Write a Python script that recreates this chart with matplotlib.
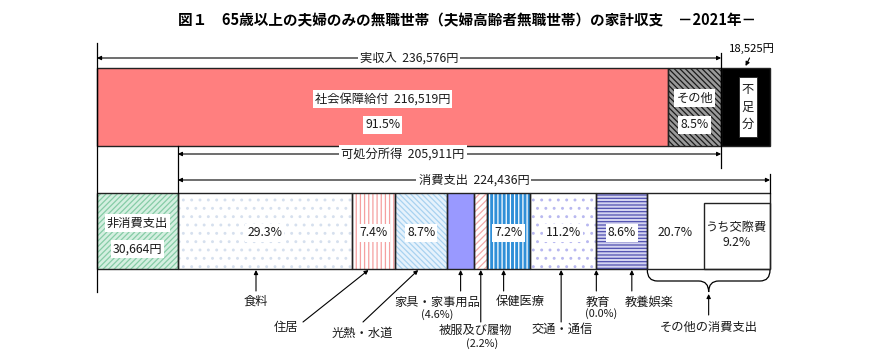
import matplotlib
matplotlib.use('Agg')
import matplotlib.pyplot as plt
from matplotlib.path import Path
from matplotlib.patches import PathPatch
import numpy as np

plt.rcParams['font.family'] = ['Noto Sans CJK JP', 'DejaVu Sans']
plt.rcParams['hatch.linewidth'] = 0.9

# ---------------- data ----------------
title = "図１　65歳以上の夫婦のみの無職世帯（夫婦高齢者無職世帯）の家計収支　－2021年－"
income_total = 236576
social_security = 216519
income_other = income_total - social_security
income_pct = [91.5, 8.5]
deficit = 18525
non_consumption = 30664
disposable = 205911
consumption = 224436
cons_categories = ['食料', '住居', '光熱・水道', '家具・家事用品', '被服及び履物',
                   '保健医療', '交通・通信', '教育', '教養娯楽', 'その他の消費支出']
cons_pct = [29.3, 7.4, 8.7, 4.6, 2.2, 7.2, 11.2, 0.0, 8.6, 20.7]
social_pct = 9.2

# ---------------- layout ----------------
FIG_W, FIG_H = 870, 360
LEFT_PX, BAR_PX = 97, 673
total = income_total + deficit
S = total / BAR_PX


def px(p):
    return (p - LEFT_PX) * S


fig = plt.figure(figsize=(FIG_W / 100, FIG_H / 100), dpi=100)
ax = fig.add_axes([0, 0, 1, 1])
ax.set_xlim(px(0), px(FIG_W))
ax.set_ylim(FIG_H, 0)
ax.axis('off')

FS = 8.8


def seg(left, width, top, bottom, fc, hatch=None, hc=None, z=2):
    h = bottom - top
    ax.barh((top + bottom) / 2, width, left=left, height=h, color=fc,
            linewidth=0, zorder=z)
    if hatch:
        ax.barh((top + bottom) / 2, width, left=left, height=h, fill=False,
                hatch=hatch, edgecolor=hc, linewidth=0, zorder=z + 0.1)
    ax.barh((top + bottom) / 2, width, left=left, height=h, fill=False,
            edgecolor='#222222', linewidth=1.0, zorder=z + 0.2)


def label(x, y, s, box=True, fs=FS, **kw):
    bb = dict(fc='white', ec='none', pad=1.5) if box else None
    ax.text(x, y, s, ha='center', va='center', fontsize=fs, bbox=bb,
            zorder=10, color='#1a1a1a', **kw)


def arrow(x0, y0, x1, y1, style='-|>'):
    ax.annotate('', xy=(x1, y1), xytext=(x0, y0),
                arrowprops=dict(arrowstyle=style, lw=0.8, color='black',
                                mutation_scale=6, shrinkA=0, shrinkB=0),
                zorder=8)


# ---- title ----
ax.text(px(467), 20, title, ha='center', va='center', fontsize=10.5,
        fontweight='bold')

# ---- top bar ----
T0, T1 = 68, 146
seg(0, social_security, T0, T1, '#ff7f7f')
seg(social_security, income_other, T0, T1, '#9a9a9a', '\\' * 6, '#1a1a1a')
seg(income_total, deficit, T0, T1, 'black')

label(social_security / 2, 99, f'社会保障給付  {social_security:,}円')
label(social_security / 2, 125, f'{income_pct[0]}%')
label(social_security + income_other / 2, 98, 'その他')
label(social_security + income_other / 2, 125, f'{income_pct[1]}%')
label(income_total + deficit / 2 + 2 * S, 107, '不\n足\n分', linespacing=1.45,
      box=False)
ax.bar(income_total + deficit / 2 + 2 * S, 60, bottom=77, width=18 * S,
       color='white', edgecolor='#222222', linewidth=0.6, zorder=9)
ax.text(income_total + deficit / 2 + 6 * S, 49, f'{deficit:,}円', ha='center',
        va='center', fontsize=FS - 0.6)
arrow(income_total + deficit / 2 + 4 * S, 58, income_total + deficit / 2, 66)

# ---- brackets / arrows ----
ax.plot([0, 0], [43, 292], color='black', lw=0.9, zorder=7)
ax.plot([income_total] * 2, [53, 168], color='black', lw=0.9, zorder=7)
ax.plot([non_consumption] * 2, [T1, 193], color='black', lw=0.9, zorder=7)
ax.plot([total] * 2, [174, 193], color='black', lw=0.9, zorder=7)

arrow(0, 58, income_total, 58, '<|-|>')
label(income_total / 2, 58, f'実収入  {income_total:,}円')
arrow(non_consumption, 154, income_total, 154, '<|-|>')
label(px(403), 154, f'可処分所得  {disposable:,}円')
arrow(non_consumption, 180, total, 180, '<|-|>')
label((non_consumption + total) / 2, 180, f'消費支出  {consumption:,}円')

# ---- bottom bar ----
B0, B1 = 193, 269
seg(0, non_consumption, B0, B1, '#d4efe0', '/' * 6, '#86cca6')
label(non_consumption / 2, 223, '非消費支出')
label(non_consumption / 2, 249, f'{non_consumption:,}円')

styles = [
    ('white', '..', '#d6e0ee'),
    ('white', '||||', '#f5a0a0'),
    ('#e6f2fc', '\\' * 6, '#a8d2f0'),
    ('#9999ff', None, None),
    ('white', '/' * 5, '#f2a8a8'),
    ('#2f8fd8', '||||', 'white'),
    ('white', '..', '#b8b8f0'),
    ('white', None, None),
    ('#d4d4f0', '-' * 5, '#5050b0'),
    ('white', None, None),
]
psum = sum(cons_pct)
widths = [p / psum * consumption for p in cons_pct]
lefts = non_consumption + np.concatenate([[0], np.cumsum(widths)[:-1]])
for l, w, (fc, h, hc) in zip(lefts, widths, styles):
    if w > 0:
        seg(l, w, B0, B1, fc, h, hc)

show_in_bar = [0, 1, 2, 5, 6, 8, 9]
for i in show_in_bar:
    x = lefts[i] + widths[i] / 2
    if i == 9:
        x = lefts[i] + 28 * S
    label(x, 233, f'{cons_pct[i]}%', box=(i != 9))

# inner box for 交際費
ax.barh((203 + B1) / 2, 66 * S, left=total - 66 * S, height=B1 - 203,
        fill=False, edgecolor='#222222', linewidth=1.0, zorder=5)
label(total - 33 * S, 227, 'うち交際費', box=False)
label(total - 33 * S, 243, f'{social_pct}%', box=False)

# ---- callouts ----
arrow(px(256), 291, px(256), 270)
label(px(256), 301, cons_categories[0], box=False)

arrow(px(303), 322, lefts[1] + widths[1] / 2 - 5 * S, 270)
label(px(286), 327, cons_categories[1], box=False)

arrow(px(363), 322, lefts[2] + widths[2] / 2 - 3 * S, 270)
label(px(362), 333, cons_categories[2], box=False)

arrow(lefts[3] + widths[3] / 2, 291, lefts[3] + widths[3] / 2, 270)
label(px(437), 302, cons_categories[3], box=False)
label(px(437), 315, f'({cons_pct[3]}%)', box=False, fs=FS - 1)

arrow(lefts[4] + widths[4] / 2, 322, lefts[4] + widths[4] / 2, 270)
label(px(475), 330, cons_categories[4], box=False)
label(px(482), 344, f'({cons_pct[4]}%)', box=False, fs=FS - 1)

arrow(lefts[5] + widths[5] / 2 - 5 * S, 291, lefts[5] + widths[5] / 2 - 5 * S, 270)
label(px(520), 302, cons_categories[5], box=False)

arrow(lefts[6] + widths[6] / 2 - 2 * S, 322, lefts[6] + widths[6] / 2 - 2 * S, 270)
label(px(562), 329, cons_categories[6], box=False)

arrow(lefts[7], 291, lefts[7], 270)
label(px(598), 302, cons_categories[7], box=False)
label(px(601), 314, f'({cons_pct[7]}%)', box=False, fs=FS - 1)

arrow(lefts[8] + widths[8] / 2 + 10 * S, 291, lefts[8] + widths[8] / 2 + 10 * S, 270)
label(px(649), 302, cons_categories[8], box=False)

# brace under その他の消費支出
bl, br = lefts[9], total
bm = (bl + br) / 2
d = 10 * S
verts = [(bl, 270), (bl, 281), (bl + d, 281), (bm - d, 281), (bm, 281), (bm, 292),
         (bm, 281), (bm + d, 281), (br - d, 281), (br, 281), (br, 270)]
codes = [Path.MOVETO, Path.CURVE3, Path.CURVE3, Path.LINETO, Path.CURVE3, Path.CURVE3,
         Path.CURVE3, Path.CURVE3, Path.LINETO, Path.CURVE3, Path.CURVE3]
ax.add_patch(PathPatch(Path(verts, codes), fill=False, lw=0.9, ec='black', zorder=6))
arrow(bm, 315, bm, 294)
label(bm, 327, cons_categories[9], box=False)

fig.savefig('out.png', dpi=100, facecolor='white')
